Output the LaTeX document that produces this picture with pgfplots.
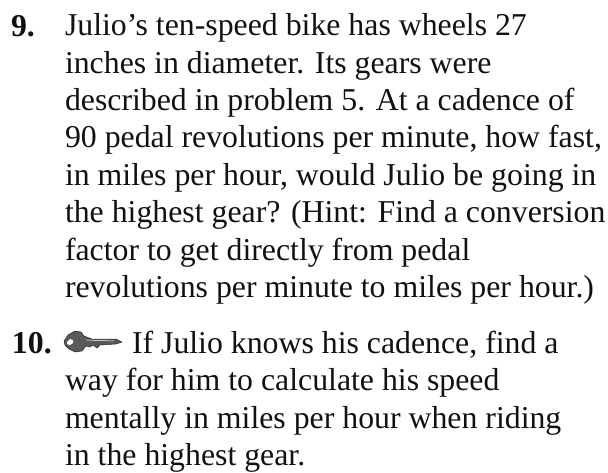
\documentclass[border=0pt]{standalone}
\usepackage{pgfplots}
\pgfplotsset{compat=1.18}
\usepackage{fontspec}
\setmainfont{Liberation Serif}
\definecolor{ink}{HTML}{111111}
\newcommand{\fs}{\fontsize{31.8}{31.8}\selectfont}
\tikzset{tl/.style={text=ink, font=\fs, anchor=base west, inner sep=0pt, outer sep=0pt},
  tb/.style={tl, font=\fs\bfseries}}
\begin{document}
\begin{tikzpicture}[x=1pt,y=1pt]
\begin{axis}[
  at={(0pt,0pt)}, anchor=south west,
  width=608pt, height=472pt, scale only axis,
  xmin=0, xmax=608, ymin=0, ymax=472, y dir=reverse,
  axis lines=none, clip=false
]
\addplot[draw=none, forget plot] coordinates {(0,0) (608,472)};
% key icon
\addplot[fill=black!65, draw=ink, line width=0.4pt, forget plot] coordinates {
  (64,341) (68,335) (75,331) (81,332) (84,336) (92,339) (116,339) (122,342) (116,344) (100,345) (97,348) (93,345) (90,347) (86,346) (82,351) (75,352) (69,349) (65,345) (64,341)};
\addplot[fill=white, draw=none, forget plot] coordinates {
  (67,342) (70,339) (73,340) (73,343) (70,345) (67,344) (67,342)};
\addplot[draw=white, line width=0.5pt, forget plot] coordinates {(86,340) (114,341)};
\node[tb] at (axis cs:11,36) {9.};
\node[tl] at (axis cs:65,35) {Julio’s ten-speed bike has wheels 27};
\node[tl] at (axis cs:65,73) {inches in diameter. Its gears were};
\node[tl] at (axis cs:65,110) {described in problem 5. At a cadence of};
\node[tl] at (axis cs:65,147) {90 pedal revolutions per minute, how fast,};
\node[tl] at (axis cs:65,185) {in miles per hour, would Julio be going in};
\node[tl] at (axis cs:65,222) {the highest gear? (Hint: Find a conversion};
\node[tl] at (axis cs:65,260) {factor to get directly from pedal};
\node[tl] at (axis cs:65,297) {revolutions per minute to miles per hour.)};
\node[tb] at (axis cs:12,353) {10.};
\node[tl] at (axis cs:132,353) {If Julio knows his cadence, find a};
\node[tl] at (axis cs:65,390) {way for him to calculate his speed};
\node[tl] at (axis cs:65,428) {mentally in miles per hour when riding};
\node[tl] at (axis cs:65,465) {in the highest gear.};
\end{axis}
\end{tikzpicture}
\end{document}
